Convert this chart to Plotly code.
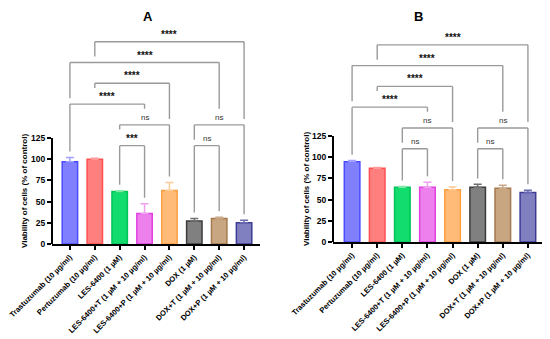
import plotly.graph_objects as go

categories = ["Trastuzumab (10 µg/ml)", "Pertuzumab (10 µg/ml)", "LES-6400 (1 µM)",
              "LES-6400+T (1 µM + 10 µg/ml)", "LES-6400+P (1 µM + 10 µg/ml)",
              "DOX (1 µM)", "DOX+T (1 µM + 10 µg/ml)", "DOX+P (1 µM + 10 µg/ml)"]
values_a = [97, 100, 62, 36, 63, 27, 30, 25]
errors_a = [5, 1, 0.8, 11.5, 9.5, 3, 1.5, 3]
values_b = [94.5, 87, 64.5, 64.5, 61.5, 64.5, 63.5, 58.5]
errors_b = [1.5, 0.8, 1, 6, 3.5, 3.5, 3.5, 2.5]
# comparisons: (first index, second index, label, stacking level)
comparisons_a = [(2, 3, "***", 0), (5, 6, "ns", 0), (2, 4, "ns", 1), (5, 7, "ns", 1),
                 (0, 3, "****", 2), (1, 4, "****", 3), (0, 6, "****", 4), (1, 7, "****", 5)]
comparisons_b = [(2, 3, "ns", 0), (5, 6, "ns", 0), (2, 4, "ns", 1), (5, 7, "ns", 1),
                 (0, 3, "****", 2), (1, 4, "****", 3), (0, 6, "****", 4), (1, 7, "****", 5)]
y_ticks = [0, 25, 50, 75, 100, 125]

fills = ["#8080ff", "#ff7f7f", "#12dc6e", "#ee80ee", "#ffbb77", "#808080", "#c9a682", "#8080c0"]
borders = ["#4b4bff", "#ff5050", "#00c455", "#e040e0", "#ffa040", "#3c3c3c", "#a5784e", "#3c3c96"]
errcols = ["#a0a0ff", "#ff9a9a", "#7fe8a8", "#f0a0f0", "#ffcc99", "#707070", "#c8a888", "#6a6ab0"]

FONT = "Liberation Sans, Arial, sans-serif"
OFF = 8  # page body margin
W, H = 550 - OFF, 339 - OFF
fx = lambda X: (X - OFF) / W
fy = lambda Y: 1 - (Y - OFF) / H

YMAX = 260
PXU = 0.848  # px per unit
fig = go.Figure()

panels = [
    dict(vals=values_a, errs=errors_a, comps=comparisons_a, xa="x", ya="y",
         xdom=[fx(52), fx(260)], ydom=[fy(244), fy(244 - YMAX * PXU)], xr=[-0.72, 7.64],
         title="A", tx=fx(142)),
    dict(vals=values_b, errs=errors_b, comps=comparisons_b, xa="x2", ya="y2",
         xdom=[fx(333), fx(547)], ydom=[fy(242), fy(242 - YMAX * PXU)], xr=[-0.76, 7.76],
         title="B", tx=fx(424)),
]

shapes = []
annotations = []
for p_i, p in enumerate(panels):
    for i, cat in enumerate(categories):
        fig.add_trace(go.Bar(
            x=[i], y=[p["vals"][i]], xaxis=p["xa"], yaxis=p["ya"], width=0.62,
            marker=dict(color=fills[i], line=dict(color=borders[i], width=1.5)),
            error_y=dict(type="data", symmetric=False, array=[p["errs"][i]], arrayminus=[0],
                         color=errcols[i], thickness=1.5, width=4),
            showlegend=False, hoverinfo="skip"))
    # bracket geometry from data
    tops = [v + e for v, e in zip(p["vals"], p["errs"])]
    base = max(tops) + 14
    step = 24.5
    gap = 7
    lab_h = 12
    halfw = {"****": 0.5, "***": 0.5, "ns": 0.25}
    placed = []
    for (a, b, lab, lvl) in sorted(p["comps"], key=lambda c: c[3]):
        h = base + lvl * step
        legs = []
        for x in (a, b):
            obs = [tops[x]]
            for (a2, b2, lab2, h2) in placed:
                if a2 <= x <= b2:
                    obs.append(h2)
                if abs(x - (a2 + b2) / 2) <= halfw[lab2]:
                    obs.append(h2 + lab_h)
            legs.append(max(obs) + gap)
        xref, yref = p["xa"], p["ya"]
        lc = dict(color="#9a9a9a", width=1.4)
        shapes.append(dict(type="line", xref=xref, yref=yref, x0=a, x1=b, y0=h, y1=h, line=lc))
        shapes.append(dict(type="line", xref=xref, yref=yref, x0=a, x1=a, y0=legs[0], y1=h, line=lc))
        shapes.append(dict(type="line", xref=xref, yref=yref, x0=b, x1=b, y0=legs[1], y1=h, line=lc))
        is_star = "*" in lab
        annotations.append(dict(xref=xref, yref=yref, x=(a + b) / 2, y=h, text=lab,
                                showarrow=False, yanchor="bottom", yshift=0 if is_star else 1,
                                font=dict(family=FONT, size=10 if is_star else 8,
                                          color="#111111" if is_star else "#333333",
                                          weight="bold" if is_star else "normal")))
        placed.append((a, b, lab, h))
    # y axis line only up to 125
    shapes.append(dict(type="line", xref=p["xa"] + " domain", yref=p["ya"], x0=0, x1=0,
                       y0=0, y1=max(y_ticks), line=dict(color="black", width=2)))
    # y axis title
    annotations.append(dict(xref="paper", yref=p["ya"], x=p["xdom"][0] - 27 / W,
                            y=max(y_ticks) / 2, text="Viability of cells (% of control)",
                            textangle=-90, showarrow=False, xanchor="center",
                            font=dict(family=FONT, size=8, color="black", weight="bold")))
    # panel title
    annotations.append(dict(xref="paper", yref="paper", x=p["tx"], y=1,
                            text=p["title"], showarrow=False, yanchor="top", borderpad=0,
                            font=dict(family=FONT, size=13, color="black", weight="bold")))

axis_font = dict(family=FONT, size=7.6, color="black", weight="bold")
def xax(p, anchor):
    return dict(domain=p["xdom"], anchor=anchor, range=p["xr"], automargin=False,
                tickvals=list(range(8)), ticktext=categories, tickangle=-45,
                ticklabeloverflow="allow",
                showline=True, linecolor="black", linewidth=2, ticks="outside",
                ticklen=4, tickwidth=1.5, tickcolor="black", showgrid=False,
                zeroline=False, tickfont=axis_font)
def yax(p, anchor):
    return dict(domain=p["ydom"], anchor=anchor, range=[0, YMAX], tickvals=y_ticks,
                automargin=False, showline=False, ticks="outside", ticklen=4, tickwidth=1.5,
                tickcolor="black", showgrid=False, zeroline=False,
                tickfont=dict(family=FONT, size=8.5, color="black", weight="bold"))

fig.update_layout(
    width=W, height=H, margin=dict(l=0, r=0, t=0, b=0, autoexpand=False),
    plot_bgcolor="white", paper_bgcolor="white", barmode="overlay",
    shapes=shapes, annotations=annotations,
    xaxis=xax(panels[0], "y"), yaxis=yax(panels[0], "x"),
    xaxis2=xax(panels[1], "y2"), yaxis2=yax(panels[1], "x2"),
)

fig.write_html("out.html")
